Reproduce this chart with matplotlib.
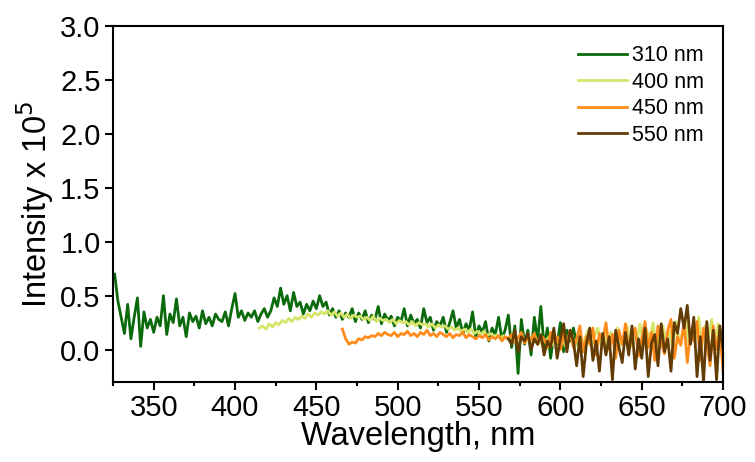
import numpy as np
import matplotlib
matplotlib.use("Agg")
import matplotlib.pyplot as plt
from matplotlib.ticker import MultipleLocator

plt.rcParams["font.family"] = ["Liberation Sans", "DejaVu Sans"]

# ------------------------------------------------------------
# Data (intensity x 1e5), 2 nm steps
# ------------------------------------------------------------
start_310 = 326
int_310 = [
    0.70, 0.45, 0.30, 0.15, 0.42, 0.10, 0.30, 0.48, 0.03, 0.35,
    0.20, 0.28, 0.16, 0.30, 0.22, 0.50, 0.14, 0.33, 0.25, 0.47,
    0.22, 0.30, 0.12, 0.34, 0.26, 0.31, 0.20, 0.36, 0.24, 0.30,
    0.22, 0.33, 0.28, 0.26, 0.35, 0.22, 0.38, 0.52, 0.30, 0.36,
    0.27, 0.34, 0.30, 0.36, 0.26, 0.33, 0.38, 0.30, 0.36, 0.48,
    0.40, 0.57, 0.42, 0.50, 0.36, 0.53, 0.40, 0.44, 0.33, 0.42,
    0.36, 0.45, 0.38, 0.50, 0.40, 0.44, 0.32, 0.38, 0.30, 0.36,
    0.28, 0.34, 0.30, 0.38, 0.26, 0.34, 0.28, 0.36, 0.25, 0.32,
    0.28, 0.40, 0.24, 0.33, 0.27, 0.31, 0.22, 0.30, 0.26, 0.38,
    0.22, 0.32, 0.24, 0.28, 0.20, 0.38, 0.25, 0.30, 0.18, 0.26,
    0.22, 0.30, 0.16, 0.25, 0.36, 0.20, 0.28, 0.15, 0.24, 0.18,
    0.35, 0.12, 0.22, 0.16, 0.26, 0.08, 0.20, 0.14, 0.30, 0.10,
    0.18, 0.32, 0.02, 0.22, -0.22, 0.28, 0.05, 0.18, -0.05, 0.30,
    0.08, 0.40, 0.02, 0.20, -0.08, 0.15, 0.05, 0.25, -0.02, 0.18,
    0.08, 0.20, 0.05, 0.12,
]

start_400 = 415
int_400 = [
    0.20, 0.22, 0.19, 0.24, 0.21, 0.25, 0.23, 0.27, 0.25, 0.29,
    0.26, 0.30, 0.28, 0.31, 0.29, 0.33, 0.30, 0.34, 0.32, 0.35,
    0.33, 0.36, 0.32, 0.35, 0.31, 0.34, 0.30, 0.33, 0.29, 0.32,
    0.30, 0.31, 0.28, 0.30, 0.27, 0.31, 0.26, 0.29, 0.27, 0.28,
    0.25, 0.28, 0.24, 0.27, 0.25, 0.26, 0.23, 0.26, 0.22, 0.25,
    0.23, 0.24, 0.21, 0.24, 0.20, 0.23, 0.21, 0.22, 0.19, 0.21,
    0.18, 0.20, 0.17, 0.19, 0.16, 0.19, 0.15, 0.17, 0.14, 0.17,
    0.13, 0.15, 0.12, 0.14, 0.11, 0.13, 0.10, 0.12, 0.09, 0.12,
    0.08, 0.11, 0.07, 0.12, 0.06, 0.10, 0.05, 0.11, 0.07, 0.12,
    0.04, 0.10, 0.06, 0.14, 0.03, 0.09, 0.12, 0.02, 0.15, 0.06,
    0.10, 0.18, 0.02, 0.12, 0.20, 0.05, 0.14, 0.00, 0.16, 0.08,
    0.20, 0.04, 0.12, 0.22, 0.02, 0.15, 0.08, 0.24, 0.05, 0.18,
    0.10, 0.25, 0.02, 0.14, 0.22, 0.06, 0.18, 0.00, 0.26, 0.08,
    0.15, 0.28, 0.04, 0.20, 0.10, 0.30, 0.05, 0.22, 0.12, 0.28,
    0.02, 0.24, 0.10,
]

start_450 = 466
int_450 = [
    0.19, 0.10, 0.05, 0.07, 0.06, 0.10, 0.09, 0.12, 0.11, 0.13,
    0.12, 0.15, 0.13, 0.16, 0.14, 0.13, 0.16, 0.12, 0.15, 0.14,
    0.17, 0.13, 0.15, 0.12, 0.16, 0.14, 0.18, 0.13, 0.15, 0.12,
    0.16, 0.14, 0.12, 0.15, 0.11, 0.14, 0.13, 0.16, 0.11, 0.14,
    0.12, 0.10, 0.13, 0.11, 0.14, 0.09, 0.12, 0.10, 0.13, 0.08,
    0.12, 0.10, 0.14, 0.07, 0.11, 0.16, 0.06, 0.12, 0.09, 0.15,
    0.05, 0.13, 0.10, 0.02, 0.16, 0.08, 0.12, 0.00, 0.14, 0.06,
    0.18, 0.02, 0.10, 0.22, -0.02, 0.12, 0.05, 0.20, -0.05, 0.15,
    0.08, 0.25, 0.00, 0.14, -0.08, 0.18, 0.05, 0.24, -0.02, 0.12,
    0.20, -0.06, 0.10, 0.26, 0.02, 0.16, -0.10, 0.22, 0.06, -0.04,
    0.18, 0.28, -0.08, 0.12, 0.04, 0.25, -0.12, 0.16, 0.08, 0.26,
    -0.10, 0.20, 0.05, -0.15, 0.22, 0.00, 0.18, -0.20,
]

start_550 = 568
int_550 = [
    0.10, 0.05, 0.18, -0.02, 0.12, 0.08, 0.15, 0.00, 0.10, 0.05,
    0.14, -0.05, 0.08, 0.02, 0.20, -0.08, 0.10, 0.24, -0.02, 0.18,
    0.08, -0.15, 0.12, -0.25, 0.05, 0.20, -0.10, 0.08, -0.20, 0.15,
    -0.05, 0.12, -0.28, 0.18, 0.02, -0.12, 0.16, -0.05, 0.22, -0.18,
    0.10, -0.08, 0.20, -0.25, 0.06, 0.14, -0.15, 0.24, -0.02, 0.10,
    -0.20, 0.25, 0.15, 0.38, 0.20, 0.41, 0.05, 0.30, -0.25, 0.12,
    -0.30, 0.26, -0.10, 0.18, -0.28, 0.22, 0.00,
]

series = [
    ("310 nm", start_310, int_310, "#0b6a0b"),
    ("400 nm", start_400, int_400, "#d6e46a"),
    ("450 nm", start_450, int_450, "#ff8c1a"),
    ("550 nm", start_550, int_550, "#633c05"),
]

# ------------------------------------------------------------
# Figure
# ------------------------------------------------------------
fig = plt.figure(figsize=(7.55, 4.62), dpi=100)
ax = fig.add_axes([0.1497, 0.1732, 0.808, 0.7705])

for label, start, vals, color in series:
    wl = start + 2 * np.arange(len(vals))
    ax.plot(wl, vals, color=color, linewidth=2.0, label=label)

ax.set_xlim(325, 700)
ax.set_ylim(-0.3, 3.0)
ax.xaxis.set_major_locator(MultipleLocator(50))
ax.xaxis.set_minor_locator(MultipleLocator(25))
ax.yaxis.set_major_locator(MultipleLocator(0.5))
ax.yaxis.set_major_formatter(plt.FormatStrFormatter("%.1f"))

ax.tick_params(axis="both", which="major", direction="out", length=6,
               width=1.5, labelsize=21, pad=3, top=False, right=False)
ax.tick_params(axis="x", which="minor", direction="out", length=3, width=1.5)
for side in ax.spines.values():
    side.set_linewidth(1.5)

ax.set_xlabel("Wavelength, nm", fontsize=23.5, labelpad=-1)
ax.set_ylabel("Intensity x 10$^5$", fontsize=23.5, labelpad=3)

ax.legend(loc="upper right", frameon=False, fontsize=15.5,
          handlelength=2.3, handletextpad=0.2, labelspacing=0.25,
          borderaxespad=0.5, borderpad=0.4)

fig.savefig("out.png", dpi=100)
